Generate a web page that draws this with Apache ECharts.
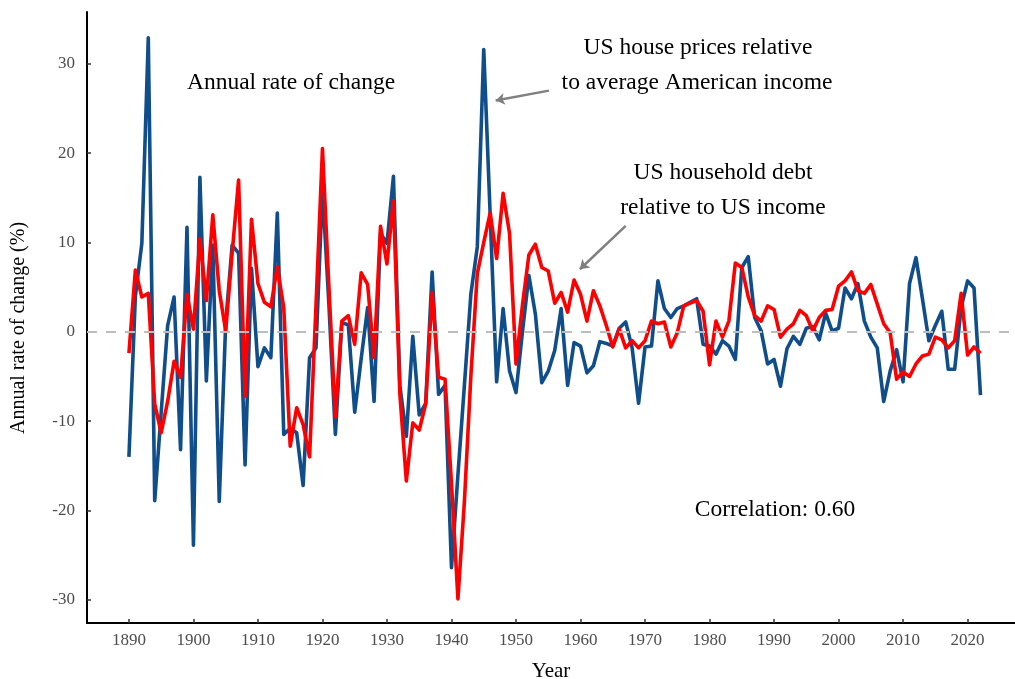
<!DOCTYPE html>
<html>
<head>
<meta charset="utf-8">
<script src="https://cdn.jsdelivr.net/npm/echarts@6/dist/echarts.min.js"></script>
<style>
html,body{margin:0;padding:0;background:#fff;}
#chart{width:1015px;height:679px;}
</style>
</head>
<body>
<div id="chart"></div>
<script>
const startYear = 1890;
const endYear = 2022;
const xTicks = [1890,1900,1910,1920,1930,1940,1950,1960,1970,1980,1990,2000,2010,2020];
const yTicks = [-30,-20,-10,0,10,20,30];

// US house prices relative to average American income (annual % change)
const housePrices = [
  -14.0, 4, 9.9, 32.9, -18.9, -9, 0.7, 3.9, -13.2, 11.7,
  -23.9, 17.3, -5.5, 9.7, -19.0, 1, 9.7, 8.8, -14.9, 7.1,
  -3.9, -1.8, -2.9, 13.3, -11.5, -10.8, -11.3, -17.2, -2.9, -1.8,
  16, 3, -11.5, 1.0, 0.8, -9.0, -3, 2.7, -7.8, 11,
  9.9, 17.4, -6, -11.7, -0.5, -9.3, -8, 6.7, -7.0, -6,
  -26.4, -16, -6, 4.2, 9.5, 31.6, 13, -5.6, 2.6, -4.4,
  -6.8, 0, 6.3, 2, -5.7, -4.4, -2.1, 2.6, -6.0, -1.2,
  -1.6, -4.6, -3.8, -1.1, -1.3, -1.6, 0.4, 1.1, -1.8, -8.0,
  -1.7, -1.6, 5.7, 2.6, 1.6, 2.6, 2.9, 3.3, 3.7, -1.4,
  -1.6, -2.5, -1.0, -1.6, -3.1, 7.2, 8.4, 1.6, 0.1, -3.6,
  -3.1, -6.1, -1.9, -0.5, -1.4, 0.4, 0.6, -0.9, 2.1, 0.1,
  0.4, 4.9, 3.7, 5.4, 1.2, -0.6, -1.8, -7.8, -4.4, -2.0,
  -5.6, 5.4, 8.3, 3.7, -1.0, 0.7, 2.3, -4.2, -4.2, 2.7,
  5.7, 4.9, -7.1
];

// US household debt relative to US income (annual % change)
const householdDebt = [
  -2.4, 6.9, 3.9, 4.3, -8.1, -11.3, -7.8, -3.3, -5.1, 4.2,
  0.3, 10.4, 3.5, 13.1, 4.6, 0.1, 8.8, 17.0, -7.2, 12.6,
  5.4, 3.3, 2.8, 7.3, 2.7, -12.8, -8.5, -10.4, -14.0, 3,
  20.5, 5, -9.5, 1.2, 1.8, -1.4, 6.6, 5.3, -2.9, 11.8,
  7.6, 14.7, -7, -16.7, -10.2, -11.0, -8.1, 4.4, -5.1, -5.3,
  -17, -29.9, -19, -5, 6.5, 10, 13.3, 8.2, 15.5, 11.0,
  -3.6, 3, 8.6, 9.8, 7.2, 6.8, 3.2, 4.4, 2.2, 5.8,
  4.2, 1.2, 4.6, 2.9, 0.7, -1.7, 0.3, -1.8, -1.0, -1.8,
  -1.0, 1.2, 0.9, 1.1, -1.7, -0.1, 2.9, 3.2, 3.5, 2.3,
  -3.7, 1.2, -0.6, 1.2, 7.7, 7.2, 3.9, 1.8, 1.2, 2.9,
  2.5, -0.6, 0.3, 0.9, 2.4, 1.8, 0.1, 1.6, 2.4, 2.5,
  5.1, 5.7, 6.7, 4.6, 4.3, 5.3, 3.1, 0.9, -0.1, -5.3,
  -4.5, -5.0, -3.6, -2.7, -2.5, -0.6, -0.9, -1.8, -1.0, 4.3,
  -2.6, -1.7, -2.4
];

const years = [];
for (let y = startYear; y <= endYear; y++) years.push(y);
const blueData = years.map((y, i) => [y, housePrices[i]]);
const redData = years.map((y, i) => [y, householdDebt[i]]);

const FONT = "'Liberation Serif', 'DejaVu Serif', serif";
const ANN = 23.5;
const chart = echarts.init(document.getElementById('chart'), null, {renderer: 'canvas'});

chart.setOption({
  animation: false,
  backgroundColor: '#ffffff',
  grid: {left: 87, right: 0, top: 12, bottom: 56, containLabel: false, outerBoundsMode: 'none'},
  xAxis: {
    type: 'value',
    min: 1883.5,
    max: 2027.35,
    name: 'Year',
    nameLocation: 'middle',
    nameGap: 38,
    nameTextStyle: {fontFamily: FONT, fontSize: 21, color: '#000'},
    axisLine: {show: true, onZero: false, lineStyle: {color: '#000', width: 2}},
    axisTick: {show: true, inside: true, length: 4, customValues: xTicks, lineStyle: {color: '#333', width: 1.5}},
    axisLabel: {customValues: xTicks, formatter: (v) => String(v), fontFamily: FONT, fontSize: 17, color: '#4d4d4d', margin: 9},
    splitLine: {show: false}
  },
  yAxis: {
    type: 'value',
    min: -32.6,
    max: 35.8,
    axisLine: {show: true, onZero: false, lineStyle: {color: '#000', width: 2}},
    axisTick: {show: true, inside: true, length: 4, customValues: yTicks, lineStyle: {color: '#333', width: 1.5}},
    axisLabel: {customValues: yTicks, formatter: (v) => String(v), fontFamily: FONT, fontSize: 17, color: '#4d4d4d', margin: 12},
    splitLine: {show: false}
  },
  series: [
    {
      type: 'line',
      name: 'zero',
      data: [],
      z: 1,
      silent: true,
      markLine: {
        silent: true,
        symbol: ['none', 'none'],
        label: {show: false},
        lineStyle: {color: '#bdbdbd', type: [10, 9], width: 2},
        data: [{yAxis: 0}]
      }
    },
    {
      type: 'line',
      name: 'US house prices relative to average American income',
      data: blueData,
      showSymbol: false,
      z: 2,
      lineStyle: {color: '#104e8b', width: 3.6, join: 'round'},
      itemStyle: {color: '#104e8b'}
    },
    {
      type: 'line',
      name: 'US household debt relative to US income',
      data: redData,
      showSymbol: false,
      z: 3,
      lineStyle: {color: '#ff0000', width: 3.6, join: 'round'},
      itemStyle: {color: '#ff0000'}
    },
    {
      type: 'line',
      name: 'arrows',
      data: [],
      z: 4,
      silent: true,
      markLine: {
        silent: true,
        symbol: ['none', 'arrow'],
        symbolSize: 9,
        label: {show: false},
        lineStyle: {color: '#808080', type: 'solid', width: 2.5},
        data: [
          [{coord: [1955.1, 27.0]}, {coord: [1946.85, 25.9]}],
          [{coord: [1967.0, 11.85]}, {coord: [1959.9, 7.0]}]
        ]
      }
    }
  ],
  graphic: [
    {type: 'text', x: 19, y: 328, rotation: Math.PI / 2, style: {text: 'Annual rate of change (%)', fontFamily: FONT, fontSize: 20, fill: '#000', align: 'center', verticalAlign: 'middle'}},
    {type: 'text', x: 291, y: 83, style: {text: 'Annual rate of change', fontFamily: FONT, fontSize: ANN, fill: '#000', align: 'center', verticalAlign: 'middle'}},
    {type: 'text', x: 698, y: 48, style: {text: 'US house prices relative', fontFamily: FONT, fontSize: ANN, fill: '#000', align: 'center', verticalAlign: 'middle'}},
    {type: 'text', x: 697, y: 83, style: {text: 'to average American income', fontFamily: FONT, fontSize: ANN, fill: '#000', align: 'center', verticalAlign: 'middle'}},
    {type: 'text', x: 723, y: 173, style: {text: 'US household debt', fontFamily: FONT, fontSize: ANN, fill: '#000', align: 'center', verticalAlign: 'middle'}},
    {type: 'text', x: 723, y: 208, style: {text: 'relative to US income', fontFamily: FONT, fontSize: ANN, fill: '#000', align: 'center', verticalAlign: 'middle'}},
    {type: 'text', x: 775, y: 510, style: {text: 'Correlation: 0.60', fontFamily: FONT, fontSize: ANN, fill: '#000', align: 'center', verticalAlign: 'middle'}}
  ]
});
</script>
</body>
</html>
